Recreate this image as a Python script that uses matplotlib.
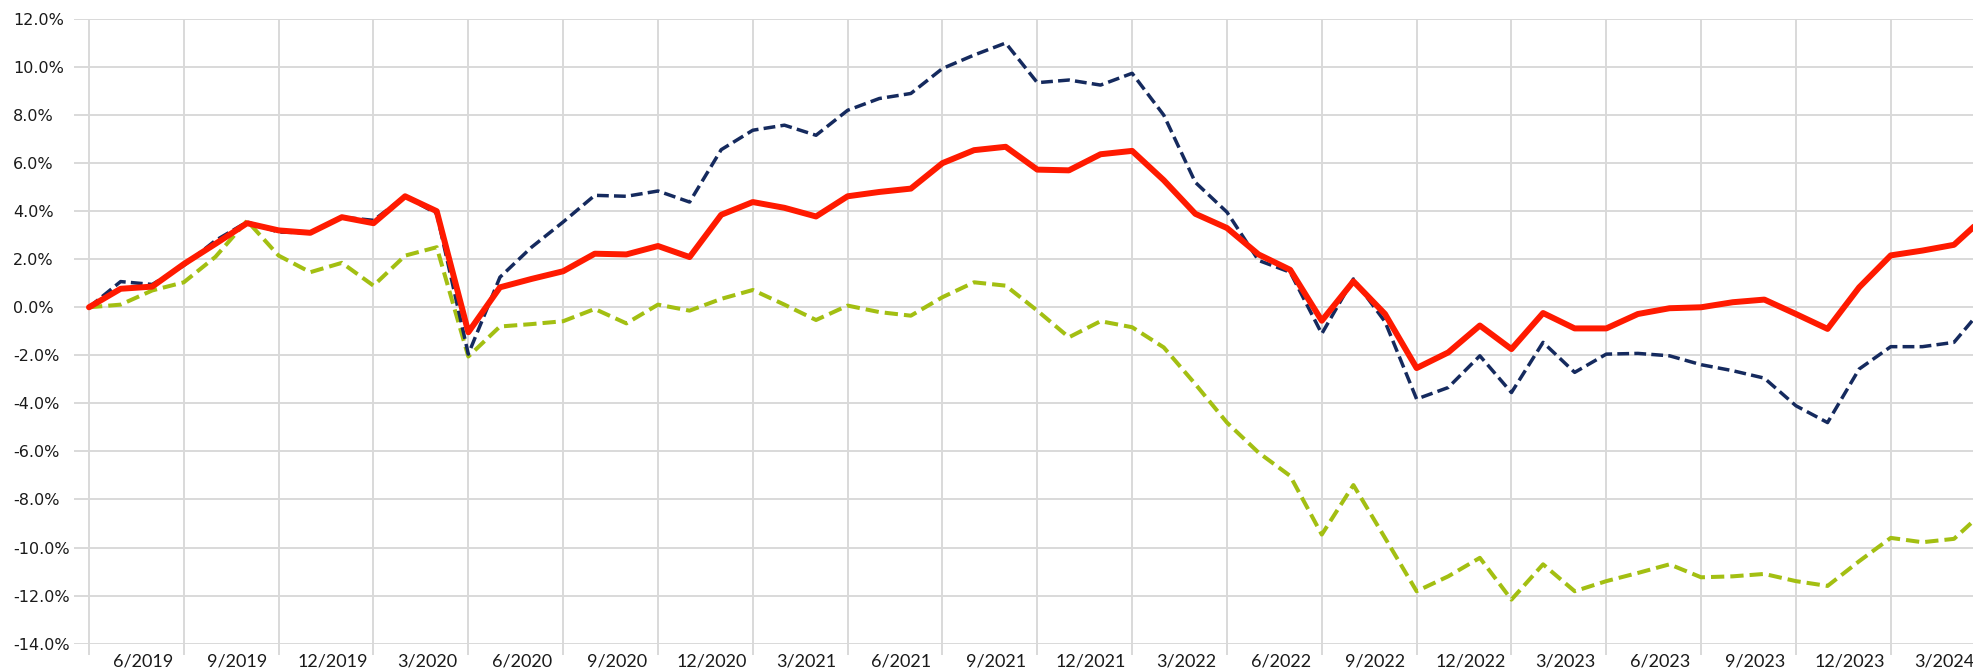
import numpy as np
import matplotlib
matplotlib.use("Agg")
import matplotlib.pyplot as plt

# ---- data (cumulative performance, %, month-end from 3/2019) ----
red_series = [0.0, 0.77, 0.86, 1.8, 2.64, 3.5, 3.2, 3.1, 3.75, 3.5, 4.62, 4.0,
              -1.04, 0.83, 1.18, 1.5, 2.23, 2.2, 2.55, 2.09, 3.85, 4.38, 4.14, 3.78,
              4.62, 4.8, 4.94, 6.0, 6.54, 6.68, 5.73, 5.7, 6.37, 6.51, 5.29, 3.89,
              3.3, 2.2, 1.56, -0.56, 1.08, -0.28, -2.53, -1.88, -0.76, -1.74, -0.24, -0.88,
              -0.88, -0.28, -0.04, 0.0, 0.21, 0.32, -0.28, -0.9, 0.83, 2.16, 2.36, 2.6, 3.8]
blue_series = [0.0, 1.07, 0.95, 1.74, 2.78, 3.55, 3.13, 3.1, 3.75, 3.62, 4.62, 3.9,
               -1.95, 1.25, 2.5, 3.55, 4.66, 4.62, 4.84, 4.38, 6.56, 7.37, 7.58, 7.16,
               8.2, 8.69, 8.9, 9.94, 10.5, 11.0, 9.35, 9.46, 9.25, 9.74, 8.0, 5.2,
               3.96, 1.95, 1.46, -1.1, 1.18, -0.6, -3.82, -3.34, -2.02, -3.55, -1.46, -2.71,
               -1.95, -1.92, -2.02, -2.39, -2.64, -2.95, -4.1, -4.8, -2.57, -1.64, -1.64, -1.46, 0.1]
green_series = [0.0, 0.11, 0.7, 1.04, 2.1, 3.6, 2.15, 1.46, 1.85, 0.9, 2.15, 2.5,
                -2.05, -0.8, -0.7, -0.58, -0.07, -0.67, 0.11, -0.14, 0.35, 0.72, 0.11, -0.53,
                0.07, -0.2, -0.35, 0.42, 1.04, 0.9, -0.14, -1.25, -0.58, -0.83, -1.67, -3.2,
                -4.8, -6.05, -7.02, -9.46, -7.4, -9.6, -11.82, -11.2, -10.43, -12.17, -10.7, -11.82,
                -11.4, -11.06, -10.7, -11.24, -11.2, -11.1, -11.4, -11.6, -10.57, -9.6, -9.78, -9.64, -8.43]
quarter_labels = ["6/2019", "9/2019", "12/2019", "3/2020", "6/2020", "9/2020", "12/2020",
                  "3/2021", "6/2021", "9/2021", "12/2021", "3/2022", "6/2022", "9/2022",
                  "12/2022", "3/2023", "6/2023", "9/2023", "12/2023", "3/2024"]
y_ticks = list(range(-14, 13, 2))

# ---- layout (pixels) ----
W, H = 1973, 672
left_px, right_px = 74, 2010
top_px, bottom_px = 19, 643.6
x0_px, month_px = 89, 31.61

fig = plt.figure(figsize=(W / 100, H / 100), dpi=100)
ax = fig.add_axes([left_px / W, 1 - bottom_px / H,
                   (right_px - left_px) / W, (bottom_px - top_px) / H])

x = np.arange(len(red_series))
grid_c = "#d9d9d9"

ax.plot(x, green_series, color="#a3bf12", lw=2.9, dashes=(3.3, 1.5),
        dash_capstyle="butt", zorder=3)
ax.plot(x, blue_series, color="#152a5e", lw=2.5, dashes=(3.4, 1.5),
        dash_capstyle="butt", zorder=4)
ax.plot(x, red_series, color="#ff1a00", lw=4.3, solid_joinstyle="round",
        solid_capstyle="round", zorder=5)

ax.set_xlim(-(x0_px - left_px) / month_px, (right_px - x0_px) / month_px)
ax.set_ylim(-14, 12)

for s in ax.spines.values():
    s.set_visible(False)

ax.set_yticks(y_ticks)
ax.set_yticklabels([f"{v:.1f}%" for v in y_ticks], fontsize=11.5,
                   family="DejaVu Sans", color="#1a1a1a", ha="left")
ax.tick_params(axis="y", length=0, pad=(left_px - 13) * 0.72)

n_q = len(quarter_labels)
ax.set_xticks(np.arange(0, 3 * n_q + 1, 3))
ax.set_xticklabels([])
ax.set_xticks(np.arange(n_q) * 3 + 1.7, minor=True)
ax.set_xticklabels(quarter_labels, minor=True, fontsize=13, family="Lato",
                   color="#1a1a1a")
ax.tick_params(axis="x", which="major", length=8, width=1.4, color=grid_c)
ax.tick_params(axis="x", which="minor", length=0, pad=7)

ax.grid(True, which="major", color=grid_c, lw=1.4)
ax.set_axisbelow(True)

fig.savefig("out.png", dpi=100, facecolor="white")
